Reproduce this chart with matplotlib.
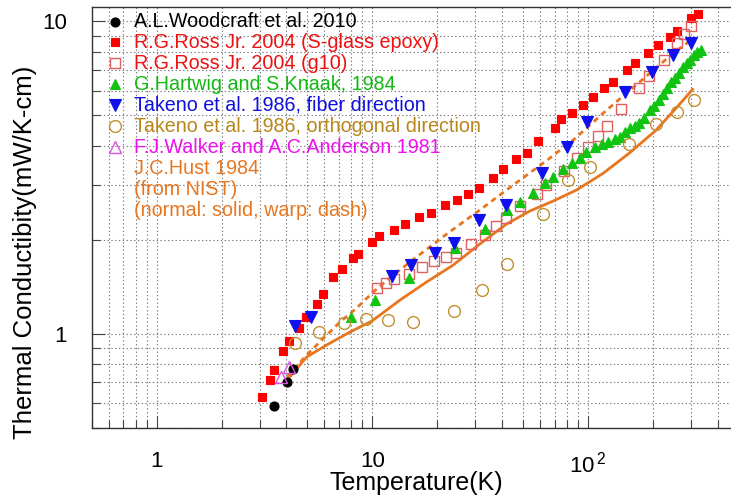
import matplotlib
matplotlib.use("Agg")
import matplotlib.pyplot as plt
from matplotlib.ticker import FixedLocator, FixedFormatter, NullFormatter, LogLocator

plt.rcParams['font.family'] = ['Liberation Sans', 'DejaVu Sans']
plt.rcParams['mathtext.fontset'] = 'custom'
plt.rcParams['mathtext.rm'] = 'Liberation Sans'

# ---------------- data ----------------
woodcraft_T = [3.51, 4.02, 4.28]
woodcraft_k = [0.586, 0.70, 0.77]

ross_sglass_T = [3.09, 3.34, 3.51, 3.86, 4.11, 4.58, 4.91, 5.52, 5.88, 6.60, 7.21, 8.10, 8.59,
                 9.98, 10.79, 12.59, 14.21, 16.44, 18.66, 21.71, 24.6, 27.84, 31.3, 36.4, 40.5,
                 46.2, 51.9, 58.6, 70.0, 75.1, 84.4, 94.4, 105.7, 118.8, 130.2, 151.4, 165.3,
                 190, 211, 240, 258.4, 299.4, 325]
ross_sglass_k = [0.626, 0.708, 0.766, 0.876, 0.946, 1.04, 1.13, 1.245, 1.339, 1.52, 1.61, 1.746, 1.80,
                 1.97, 2.06, 2.154, 2.236, 2.362, 2.442, 2.588, 2.68, 2.80, 2.934, 3.15, 3.36,
                 3.63, 3.79, 4.15, 4.55, 4.86, 5.08, 5.38, 5.73, 6.10, 6.40, 6.99, 7.35,
                 7.91, 8.41, 8.94, 9.34, 10.24, 10.55]

ross_g10_T = [10.53, 11.54, 12.59, 14.75, 16.94, 19.41, 21.87, 24.4, 28.7, 33.4, 37.6, 41.6, 48.6,
              57.8, 64.1, 77.1, 88.8, 99.6, 110.9, 122.6, 142.1, 171.7, 191.6, 224.1, 258.4, 278.4, 299]
ross_g10_k = [1.402, 1.448, 1.49, 1.555, 1.636, 1.703, 1.759, 1.809, 1.929, 2.066, 2.203, 2.354, 2.563,
              2.81, 2.988, 3.318, 3.658, 3.955, 4.29, 4.63, 5.24, 6.11, 6.70, 7.54, 8.55, 9.13, 9.67]

hartwig_T = [7.98, 10.28, 14.83, 24.28, 33.2, 42.2, 48.3, 55.8, 63.5, 69.0, 76.7, 84.5, 91.7, 98.3,
             107.4, 115.6, 124.1, 134, 140.6, 148.3, 156.9, 164.5, 171.7, 182.6, 194.7, 202.5, 212.7,
             222, 232.2, 242.3, 252.9, 263.9, 276.9, 288.4, 298.3, 309.7, 320.8, 333.7]
hartwig_k = [1.132, 1.283, 1.512, 1.883, 2.162, 2.488, 2.649, 2.825, 3.043, 3.18, 3.36, 3.51, 3.64, 3.825,
             3.97, 4.05, 4.12, 4.21, 4.27, 4.42, 4.55, 4.63, 4.74, 4.92, 5.20, 5.36, 5.62,
             5.86, 6.13, 6.40, 6.61, 6.86, 7.12, 7.36, 7.55, 7.78, 7.97, 8.12]

takeno_fib_T = [4.38, 5.19, 12.29, 15.1, 19.61, 23.97, 31.1, 41.5, 61.0, 80.3, 98.8, 148.8, 197.4, 247.5, 301]
takeno_fib_k = [1.054, 1.13, 1.534, 1.662, 1.811, 1.957, 2.316, 2.588, 3.257, 3.967, 4.77, 5.94, 6.88, 7.78, 8.55]

takeno_orth_T = [4.38, 5.63, 7.41, 9.37, 11.77, 15.47, 23.89, 32.1, 41.9, 61.6, 80.9, 102, 155.2, 205.8, 257.6, 310.4]
takeno_orth_k = [0.930, 1.011, 1.078, 1.111, 1.107, 1.091, 1.181, 1.375, 1.667, 2.412, 3.105, 3.42, 4.04, 4.69, 5.14, 5.60]

walker_T = [3.79, 4.09]
walker_k = [0.727, 0.783]

hust_normal_T = [4.02, 4.96, 6.14, 7.87, 9.96, 13.43, 17.85, 23.72, 31.5, 41.9, 53.8, 69.0, 88.5,
                 117.6, 156.4, 205.8, 257.6, 305.4]
hust_normal_k = [0.709, 0.841, 0.919, 1.011, 1.097, 1.28, 1.463, 1.658, 1.936, 2.244, 2.47, 2.659, 2.884,
                 3.263, 3.80, 4.47, 5.30, 6.06]

hust_warp_T = [4.02, 4.96, 5.92, 7.08, 8.46, 10.1, 12.06, 14.94, 22.11, 31.5, 45.0, 64.3, 85.4,
               122, 174, 248.3, 296.8]
hust_warp_k = [0.726, 0.853, 0.964, 1.089, 1.207, 1.359, 1.506, 1.695, 2.084, 2.488, 2.992, 3.584, 4.17,
               5.20, 6.41, 7.91, 8.66]

labels = ["A.L.Woodcraft et al. 2010",
          "R.G.Ross Jr. 2004 (S-glass epoxy)",
          "R.G.Ross Jr. 2004 (g10)",
          "G.Hartwig and S.Knaak, 1984",
          "Takeno et al. 1986, fiber direction",
          "Takeno et al. 1986, orthogonal direction",
          "F.J.Walker and A.C.Anderson 1981",
          "J.C.Hust 1984",
          "(from NIST)",
          "(normal: solid, warp: dash)"]

x_ticks = [1, 10, 100]
x_ticklabels = ["1", "10", r"$\mathregular{10^{\,2}}$"]
y_ticks = [1, 10]
y_ticklabels = ["1", "10"]

# ---------------- styles ----------------
ORANGE = '#e8761f'
styles = [
    dict(marker='o', mfc='black', mec='black', ms=6.5, tc='black'),
    dict(marker='s', mfc='#ff0000', mec='#ff0000', ms=6.3, tc='#ee1111'),
    dict(marker='s', mfc='none', mec='#e06060', ms=7.8, mew=1.0, tc='#ee1111'),
    dict(marker='^', mfc='#12c412', mec='#12c412', ms=7, tc='#12b812'),
    dict(marker='v', mfc='#1010ee', mec='#1010ee', ms=9, tc='#1010dd'),
    dict(marker='o', mfc='none', mec='#c09030', ms=8.5, mew=1.0, tc='#b8861a'),
    dict(marker='^', mfc='none', mec='#dd55dd', ms=8.5, mew=1.0, tc='#ee11ee'),
]

W, H = 731, 496
fig = plt.figure(figsize=(W / 100, H / 100), dpi=100)
ax_left, ax_right, ax_bottom, ax_top = 91.7, 731.0, 427.5, 7.3
ax = fig.add_axes([ax_left / W, 1 - ax_bottom / H, (ax_right - ax_left) / W, (ax_bottom - ax_top) / H])
ax.set_xscale('log')
ax.set_yscale('log')
ax.set_xlim(0.5, 460)
ax.set_ylim(0.5, 11.1)

# curves
ax.plot(hust_normal_T, hust_normal_k, color=ORANGE, lw=2.0, zorder=2)
ax.plot(hust_warp_T, hust_warp_k, color=ORANGE, lw=2.0, linestyle=(0, (2.0, 1.6)), zorder=2)

series = [(woodcraft_T, woodcraft_k), (ross_sglass_T, ross_sglass_k), (ross_g10_T, ross_g10_k),
          (hartwig_T, hartwig_k), (takeno_fib_T, takeno_fib_k), (takeno_orth_T, takeno_orth_k),
          (walker_T, walker_k)]
for (T, k), st in zip(series, styles):
    ax.plot(T, k, linestyle='none', marker=st['marker'], ms=st['ms'], mfc=st['mfc'], mec=st['mec'],
            mew=st.get('mew', 0.8), zorder=3)

# ticks
ax.xaxis.set_major_locator(FixedLocator(x_ticks))
ax.xaxis.set_major_formatter(FixedFormatter(x_ticklabels))
ax.xaxis.set_minor_locator(LogLocator(base=10, subs=range(2, 10)))
ax.xaxis.set_minor_formatter(NullFormatter())
ax.yaxis.set_major_locator(FixedLocator(y_ticks))
ax.yaxis.set_major_formatter(FixedFormatter(y_ticklabels))
ax.yaxis.set_minor_locator(LogLocator(base=10, subs=range(2, 10)))
ax.yaxis.set_minor_formatter(NullFormatter())
ax.tick_params(which='both', direction='in', color='#444444', width=0.8, top=False, right=False)
ax.tick_params(which='major', length=9)
ax.tick_params(which='minor', length=6)
ax.tick_params(axis='x', which='major', pad=17, labelsize=16)
ax.tick_params(axis='y', which='major', pad=18, labelsize=16)

# grid (dotted, major and minor)
ax.grid(True, which='major', linestyle=(0, (1.2, 2.2)), color='#777777', linewidth=0.8)
ax.grid(True, which='minor', linestyle=(0, (1.2, 2.2)), color='#777777', linewidth=0.8)
ax.set_axisbelow(True)

for s in ['left', 'bottom', 'top']:
    ax.spines[s].set_color('#333333')
    ax.spines[s].set_linewidth(1.0)
ax.spines['right'].set_visible(False)

# axis labels
fig.text(416 / W, 1 - 483 / H, "Temperature(K)", ha='center', va='center', fontsize=18)
fig.text(25 / W, 1 - 252 / H, "Thermal Conductibity(mW/K-cm)", ha='center', va='center',
         rotation=90, fontsize=18.5)

# legend (drawn manually)
row0, dy = 21.5, 20.95
mx, tx = 115, 134
for i, lab in enumerate(labels):
    yp = 1 - (row0 + i * dy) / H
    if i < len(styles):
        st = styles[i]
        ax.plot([mx / W], [yp], transform=fig.transFigure, linestyle='none', marker=st['marker'],
                ms=st['ms'], mfc=st['mfc'], mec=st['mec'], mew=st.get('mew', 0.8), clip_on=False, zorder=5)
        col = st['tc']
    else:
        col = ORANGE
    fig.text(tx / W, yp, lab, ha='left', va='center', fontsize=14.2, color=col, zorder=5)

fig.savefig("out.png", dpi=100)
